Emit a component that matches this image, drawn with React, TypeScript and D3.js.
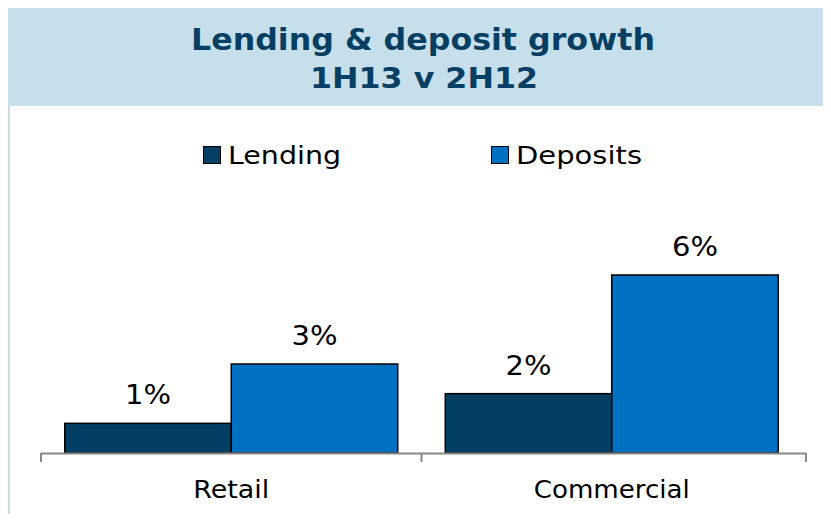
import React from "react";
import * as d3 from "d3";

const categories = ["Retail", "Commercial"];
const seriesNames = ["Lending", "Deposits"];
const lending = [1, 2];
const deposits = [3, 6];
const lendingLabels = ["1%", "2%"];
const depositLabels = ["3%", "6%"];
const colors = ["#023f63", "#0070c0"];

const W = 831;
const H = 522;

export default function App() {
  const x = d3.scaleBand<string>().domain(categories).range([41, 802]).paddingInner(0.125).paddingOuter(0.0625);
  const xs = d3.scaleBand<string>().domain(seriesNames).range([0, x.bandwidth()]);
  const y = d3.scaleLinear().domain([0, 6]).range([453, 275]);
  const series = [lending, deposits];
  const labels = [lendingLabels, depositLabels];
  const font = "'DejaVu Sans', Verdana, sans-serif";
  const ticks = [41, 41 + x.step(), 806];
  return (
    <div style={{ margin: -8 }}>
      <svg width={W} height={H} style={{ display: "block" }} fontFamily={font}>
        <rect x={0} y={0} width={W} height={H} fill="#fff" />
        <rect x={0} y={0} width={W} height={2.5} fill="#0070c0" />
        <rect x={4} y={7} width={W - 4} height={99} fill="#c6dfea" />
        <rect x={7} y={106} width={3} height={H - 106} fill="#c6dfea" />
        <text x={423} y={50} textAnchor="middle" fontSize={31} fontWeight="bold" fill="#063f63" textLength={464} lengthAdjust="spacingAndGlyphs">
          Lending &amp; deposit growth
        </text>
        <text x={424} y={88} textAnchor="middle" fontSize={29} fontWeight="bold" fill="#063f63" textLength={228} lengthAdjust="spacingAndGlyphs">
          1H13 v 2H12
        </text>
        {seriesNames.map((s, i) => {
          const lx = [203, 491][i];
          const tl = [113, 126][i];
          return (
            <g key={s}>
              <rect x={lx + 0.5} y={146.5} width={17} height={17} fill={colors[i]} stroke="#000" strokeWidth={1} />
              <text x={lx + 25} y={164} fontSize={25} fill="#000" textLength={tl} lengthAdjust="spacingAndGlyphs">
                {s}
              </text>
            </g>
          );
        })}
        {categories.map((c, ci) =>
          seriesNames.map((s, si) => {
            const bx = (x(c) as number) + (xs(s) as number);
            const v = series[si][ci];
            return (
              <g key={c + s}>
                <rect x={bx} y={y(v)} width={xs.bandwidth()} height={y(0) - y(v)} fill={colors[si]} stroke="#000" strokeWidth={1.5} />
                <text x={bx + xs.bandwidth() / 2} y={y(v) - 19} textAnchor="middle" fontSize={26} fill="#000" textLength={46} lengthAdjust="spacingAndGlyphs">
                  {labels[si][ci]}
                </text>
              </g>
            );
          })
        )}
        <line x1={41} x2={806} y1={453.5} y2={453.5} stroke="#888" strokeWidth={2} />
        {ticks.map((t, i) => (
          <line key={i} x1={t} x2={t} y1={453} y2={462} stroke="#888" strokeWidth={2} />
        ))}
        {categories.map((c, i) => (
          <text key={c} x={(x(c) as number) + x.bandwidth() / 2} y={498} textAnchor="middle" fontSize={24} fill="#000" textLength={[76, 156][i]} lengthAdjust="spacingAndGlyphs">
            {c}
          </text>
        ))}
      </svg>
    </div>
  );
}
